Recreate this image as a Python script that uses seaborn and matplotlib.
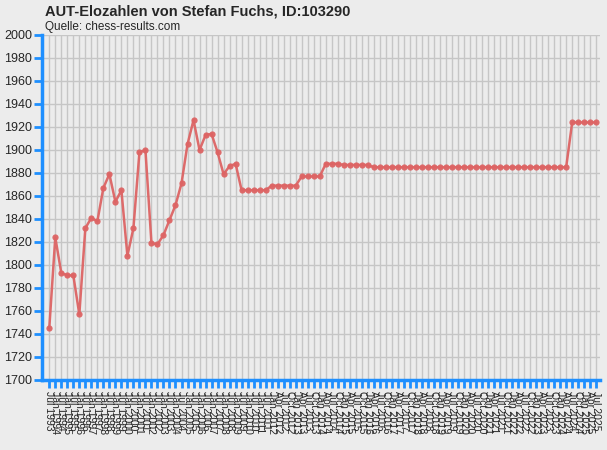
import matplotlib
matplotlib.use('Agg')
import matplotlib.pyplot as plt
import seaborn as sns
import pandas as pd

# Rating periods (semi-annual until Jan 2012, quarterly afterwards)
periods = [
    'Jul 1993', 'Jan 1994', 'Jul 1994', 'Jan 1995', 'Jul 1995', 'Jan 1996', 'Jul 1996',
    'Jan 1997', 'Jul 1997', 'Jan 1998', 'Jul 1998', 'Jan 1999', 'Jul 1999', 'Jan 2000',
    'Jul 2000', 'Jan 2001', 'Jul 2001', 'Jan 2002', 'Jul 2002', 'Jan 2003', 'Jul 2003',
    'Jan 2004', 'Jul 2004', 'Jan 2005', 'Jul 2005', 'Jan 2006', 'Jul 2006', 'Jan 2007',
    'Jul 2007', 'Jan 2008', 'Jul 2008', 'Jan 2009', 'Jul 2009', 'Jan 2010', 'Jul 2010',
    'Jan 2011', 'Jul 2011', 'Jan 2012',
    'Apr 2012', 'Jul 2012', 'Oct 2012',
    'Jan 2013', 'Apr 2013', 'Jul 2013', 'Oct 2013',
    'Jan 2014', 'Apr 2014', 'Jul 2014', 'Oct 2014',
    'Jan 2015', 'Apr 2015', 'Jul 2015', 'Oct 2015',
    'Jan 2016', 'Apr 2016', 'Jul 2016', 'Oct 2016',
    'Jan 2017', 'Apr 2017', 'Jul 2017', 'Oct 2017',
    'Jan 2018', 'Apr 2018', 'Jul 2018', 'Oct 2018',
    'Jan 2019', 'Apr 2019', 'Jul 2019', 'Oct 2019',
    'Jan 2020', 'Apr 2020', 'Jul 2020', 'Oct 2020',
    'Jan 2021', 'Apr 2021', 'Jul 2021', 'Oct 2021',
    'Jan 2022', 'Apr 2022', 'Jul 2022', 'Oct 2022',
    'Jan 2023', 'Apr 2023', 'Jul 2023', 'Oct 2023',
    'Jan 2024', 'Apr 2024', 'Jul 2024', 'Oct 2024',
    'Jan 2025', 'Apr 2025', 'Jul 2025',
]

elo = [
    1745, 1824, 1793, 1791, 1791, 1757, 1832, 1841, 1838, 1867,
    1879, 1855, 1865, 1808, 1832, 1898, 1900, 1819, 1818, 1826,
    1839, 1852, 1871, 1905, 1926, 1900, 1913, 1914, 1898, 1879,
    1886, 1888, 1865, 1865, 1865, 1865, 1865, 1869, 1869, 1869,
    1869, 1869, 1877, 1877, 1877, 1877, 1888, 1888, 1888, 1887,
    1887, 1887, 1887, 1887, 1885, 1885, 1885, 1885, 1885, 1885,
    1885, 1885, 1885, 1885, 1885, 1885, 1885, 1885, 1885, 1885,
    1885, 1885, 1885, 1885, 1885, 1885, 1885, 1885, 1885, 1885,
    1885, 1885, 1885, 1885, 1885, 1885, 1885, 1924, 1924, 1924,
    1924, 1924,
]

df = pd.DataFrame({'Period': periods, 'Elo': elo})
df['Idx'] = range(len(df))

bg = '#ECECEC'
blue = '#1E8FFF'
red = '#DD6464'

sns.set_style('whitegrid')
plt.rcParams['font.family'] = ['Liberation Sans', 'DejaVu Sans']

fig = plt.figure(figsize=(6.07, 4.5), dpi=100, facecolor=bg)
ax = fig.add_axes([42 / 607, 1 - 380 / 450, 558 / 607, 345 / 450])
ax.set_facecolor(bg)

sns.lineplot(data=df, x='Idx', y='Elo', ax=ax, color=red, linewidth=1.8,
             marker='o', markersize=4.5, markeredgewidth=0, alpha=0.95)

ax.set_xlim(-1.21, 91.63)
ax.set_ylim(1700, 2000)
ax.set_yticks(range(1700, 2001, 20))
ax.set_xticks(df['Idx'])
ax.set_xticklabels(df['Period'], rotation=-90, fontsize=7.5, va='top', ha='center')
ax.tick_params(axis='y', left=True, labelsize=9, length=6, width=2, color=blue, pad=1)
ax.tick_params(axis='x', bottom=True, length=6, width=2, color=blue, pad=2)
ax.set_xlabel('')
ax.set_ylabel('')

ax.grid(True, color='#C6C6C6', linewidth=1.0)
for side in ['top', 'right']:
    ax.spines[side].set_visible(False)
for side in ['left', 'bottom']:
    ax.spines[side].set_color(blue)
    ax.spines[side].set_linewidth(2.5)

fig.text(45 / 607, 1 - 12 / 450, 'AUT-Elozahlen von Stefan Fuchs, ID:103290',
         fontsize=10.5, fontweight='bold', va='center', ha='left')
fig.text(45 / 607, 1 - 27 / 450, 'Quelle: chess-results.com',
         fontsize=8.5, va='center', ha='left')

fig.savefig('out.png', dpi=100, facecolor=bg)
